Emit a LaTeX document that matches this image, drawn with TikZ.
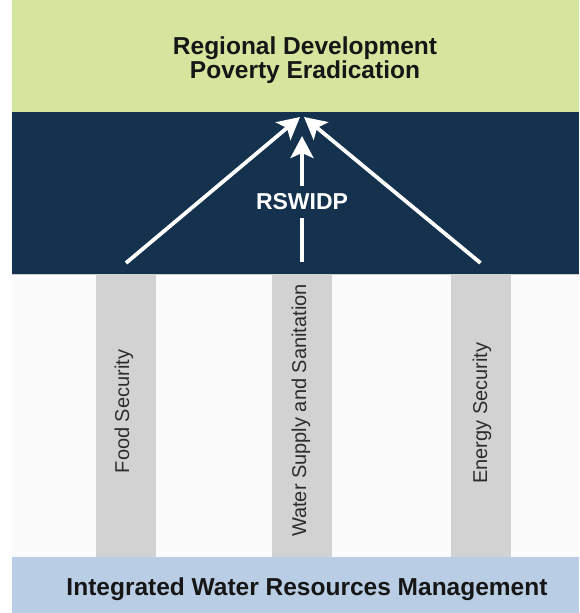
\documentclass[tikz,border=0pt]{standalone}
\usepackage{fontspec}
\setmainfont{Liberation Sans}
\usetikzlibrary{arrows.meta}
\definecolor{goalgreen}{RGB}{214,229,157}
\definecolor{programnavy}{RGB}{20,49,77}
\definecolor{sectorwhite}{RGB}{251,251,251}
\definecolor{pillargray}{RGB}{210,210,210}
\definecolor{baseblue}{RGB}{185,205,229}
\definecolor{inktext}{RGB}{22,22,22}

\begin{document}
\begin{tikzpicture}[x=1pt,y=-1pt,
  band/.style={draw=none, inner sep=0pt, outer sep=0pt, minimum width=567pt},
  pillar/.style={fill=pillargray, inner sep=0pt, outer sep=0pt,
                 minimum width=60pt, minimum height=283pt},
  headline/.style={font=\fontsize{24.5}{24.5}\selectfont\bfseries, text=inktext,
                   align=center, inner sep=0pt},
  pillarlabel/.style={font=\fontsize{20}{20}\selectfont, text=inktext!90,
                      rotate=90, inner sep=0pt},
  flowline/.style={draw=white, line width=3.8pt},
  flow/.style={flowline, -{Stealth[length=22pt,width=23pt,inset=5pt]}},
]
\useasboundingbox (0,0) rectangle (579,613);
\fill[white] (0,0) rectangle (579,613);

% horizontal bands, top to bottom
\node[band, fill=goalgreen,   minimum height=112pt] (goal)    at (295.5,56)    {};
\node[band, fill=programnavy, minimum height=162pt] (program) at (295.5,193)   {};
\node[band, fill=sectorwhite, minimum height=283pt] (sectors) at (295.5,415.5) {};
\node[band, fill=baseblue,    minimum height=56pt]  (base)    at (295.5,585)   {};
\draw[gray!40, line width=1.2pt] ([yshift=-0.6pt]program.south west) -- ([yshift=-0.6pt]program.south east);

% sector pillars
\node[pillar] (food)   at (126,415.5)   {};
\node[pillar] (water)  at (302,415.5)   {};
\node[pillar] (energy) at (480.5,415.5) {};

\node[pillarlabel] (foodlabel)   at (124,411.5) {Food Security};
\node[pillarlabel] (waterlabel)  at (301,410.5) {Water Supply and Sanitation};
\node[pillarlabel] (energylabel) at (482,413)   {Energy Security};

% titles
\node[headline] (goaltitle) at (305,60) {Regional Development\\Poverty Eradication};
\node[headline, anchor=base] (basetitle) at (307,595) {Integrated Water Resources Management};

% programme arrows
\coordinate (apex) at (302,117);
\coordinate (midtip) at (302,136);
\node[headline, font=\fontsize{23}{23}\selectfont\bfseries, text=white,
      fill=programnavy, minimum height=32pt] (rswidp) at (302,202) {RSWIDP};

\draw[flow] ([yshift=11pt]food.north) -- ([xshift=-2pt]apex);
\draw[flow] ([yshift=11pt]energy.north) -- ([xshift=2pt]apex);
\draw[flowline] ([yshift=12pt]water.north) -- (rswidp.south);
\draw[flow] (rswidp.north) -- (midtip);
\end{tikzpicture}
\end{document}
